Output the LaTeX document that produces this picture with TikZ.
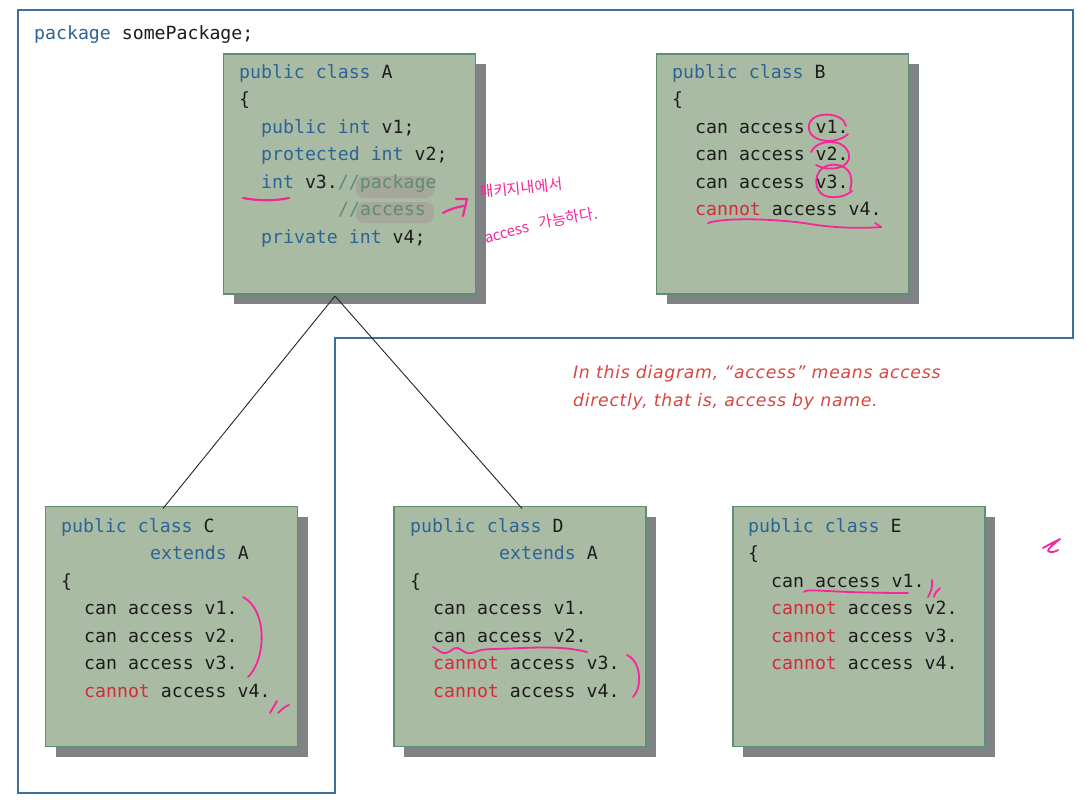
\documentclass[tikz,border=0pt]{standalone}
\usepackage{fontspec}
\setmainfont{Liberation Sans}
\newfontfamily\codefont{DejaVu Sans Mono}
\newfontfamily\notefont[LetterSpace=4]{DejaVu Sans}
\newfontfamily\korfont{Noto Sans CJK KR}
\usetikzlibrary{shadows}
\definecolor{kwblue}{HTML}{2C6496}
\definecolor{codeblack}{HTML}{1C1C1C}
\definecolor{cannotred}{HTML}{D42A3A}
\definecolor{cmtgreen}{HTML}{5E8C76}
\definecolor{boxfill}{HTML}{AABBA4}
\definecolor{boxline}{HTML}{5E8F73}
\definecolor{shadowgrey}{HTML}{808386}
\definecolor{pkgblue}{HTML}{3D6F9E}
\definecolor{notered}{HTML}{D9453F}
\definecolor{handpink}{HTML}{F7259A}
\definecolor{hilite}{HTML}{A39A94}
\newcommand\kwd[1]{\textcolor{kwblue}{#1}}
\newcommand\redt[1]{\textcolor{cannotred}{#1}}
\newcommand\cmtt[1]{\textcolor{cmtgreen}{#1}}
\tikzset{
  pkgline/.style={draw=pkgblue, line width=1.4pt},
  cls/.style={rectangle, fill=boxfill, draw=boxline, line width=1.1pt, inner sep=0pt, outer sep=0pt,
    minimum width=252pt, minimum height=240pt,
    drop shadow={shadow xshift=10pt, shadow yshift=-10pt, opacity=1, fill=shadowgrey}},
  code/.style={anchor=base west, inner sep=0pt, text=codeblack, font=\codefont\fontsize{18.2}{22}\selectfont},
  note/.style={anchor=base west, inner sep=0pt, text=notered, font=\notefont\itshape\fontsize{17.3}{22}\selectfont},
  conn/.style={draw=black!85, line width=0.9pt},
  hand/.style={draw=handpink, line width=2.2pt, line cap=round, line join=round},
  kor/.style={text=handpink, inner sep=0pt, font=\korfont\fontsize{15}{16}\selectfont},
  blob/.style={fill=hilite, fill opacity=0.55, rounded corners=8pt}
}
\begin{document}
\begin{tikzpicture}[x=1pt, y=-1pt]
\useasboundingbox (0,0) rectangle (1086,803);
\fill[white] (0,0) rectangle (1086,803);
% package outline
\draw[pkgline] (18,10) -- (1073,10) -- (1073,338) -- (335,338) -- (335,793) -- (18,793) -- cycle;
\node[code] (pk) at (34,39) {\kwd{package} somePackage;};

% class boxes
\node[cls] (A) at (349.5,174) {};
\node[cls] (B) at (782.5,174) {};
\node[cls] (C) at (171.5,626.5) {};
\node[cls] (D) at (520,626.5) {};
\node[cls] (E) at (859,626.5) {};

% inheritance lines
\coordinate (apex) at ([xshift=-14.5pt,yshift=-2pt]A.south);
\draw[conn] (apex) -- ([xshift=-8.5pt,yshift=-2pt]C.north);
\draw[conn] (apex) -- ([xshift=2pt,yshift=-2pt]D.north);

% highlight blobs
\fill[blob] (356,176) rectangle (434,198);
\fill[blob] (356,202) rectangle (434,223);

% class A
\node[code] (a1) at (239,78) {\kwd{public class} A};
\node[code] (a2) at (239,105.5) {\{};
\node[code] (a3) at (261,133) {\kwd{public int} v1;};
\node[code] (a4) at (261,160.5) {\kwd{protected int} v2;};
\node[code] (a5) at (261,188) {\kwd{int} v3.\cmtt{//package}};
\node[code] (a6) at (338,215.5) {\cmtt{//access}};
\node[code] (a7) at (261,243) {\kwd{private int} v4;};

% class B
\node[code] (b1) at (672,78) {\kwd{public class} B};
\node[code] (b2) at (672,105.5) {\{};
\node[code] (b3) at (695,133) {can access v1.};
\node[code] (b4) at (695,160.5) {can access v2.};
\node[code] (b5) at (695,188) {can access v3.};
\node[code] (b6) at (695,215.5) {\redt{cannot} access v4.};

% class C
\node[code] (c1) at (61,532) {\kwd{public class} C};
\node[code] (c2) at (150,559.5) {\kwd{extends} A};
\node[code] (c3) at (61,587) {\{};
\node[code] (c4) at (84,614.5) {can access v1.};
\node[code] (c5) at (84,642) {can access v2.};
\node[code] (c6) at (84,669.5) {can access v3.};
\node[code] (c7) at (84,697) {\redt{cannot} access v4.};

% class D
\node[code] (d1) at (410,532) {\kwd{public class} D};
\node[code] (d2) at (499,559.5) {\kwd{extends} A};
\node[code] (d3) at (410,587) {\{};
\node[code] (d4) at (433,614.5) {can access v1.};
\node[code] (d5) at (433,642) {can access v2.};
\node[code] (d6) at (433,669.5) {\redt{cannot} access v3.};
\node[code] (d7) at (433,697) {\redt{cannot} access v4.};

% class E
\node[code] (e1) at (748,532) {\kwd{public class} E};
\node[code] (e2) at (748,559.5) {\{};
\node[code] (e3) at (771,587) {can access v1.};
\node[code] (e4) at (771,614.5) {\redt{cannot} access v2.};
\node[code] (e5) at (771,642) {\redt{cannot} access v3.};
\node[code] (e6) at (771,669.5) {\redt{cannot} access v4.};

% note
\node[note] (n1) at (573,378) {In this diagram, “access” means access};
\node[note] (n2) at (573,406) {directly, that is, access by name.};

% handwritten annotations
\draw[hand] (243,198) .. controls (258,201) and (275,201) .. (289,198);
\draw[hand] (443,213) .. controls (450,209) and (457,207) .. (464,206);
\draw[hand] (456,199) -- (467,199) -- (463,216);
\node[kor, rotate=6] (k1) at (521,188) {패키지내에서};
\node[kor, rotate=15] (k2a) at (507,234) {access};
\node[kor, rotate=10] (k2b) at (568,218) {가능하다.};

% B circles and underline
\draw[hand, line width=1.8pt] (846,126) .. controls (844,112) and (812,110) .. (809,125) .. controls (806,142) and (836,146) .. (848,134);
\draw[hand, line width=1.8pt] (811,152) .. controls (818,138) and (846,138) .. (849,155) .. controls (851,169) and (828,172) .. (816,165);
\draw[hand, line width=1.8pt] (850,190) .. controls (855,173) and (846,163) .. (830,165) .. controls (812,168) and (811,195) .. (830,197) .. controls (840,198) and (847,195) .. (852,191);
\draw[hand, line width=1.8pt] (708,223) .. controls (725,217) and (780,219) .. (810,224) .. controls (840,229) and (870,228) .. (881,227);
\draw[hand, line width=1.8pt] (875,223) -- (881,227);

% C bracket and ticks
\draw[hand, line width=1.8pt] (243,597) .. controls (268,610) and (266,660) .. (248,677);
\draw[hand, line width=1.8pt] (270,713) -- (277,701);
\draw[hand, line width=1.8pt] (278,713) .. controls (282,709) and (286,706) .. (289,705);

% D wavy underline and bracket
\draw[hand, line width=1.8pt] (433,647) .. controls (440,651) and (442,654) .. (446,653) .. controls (451,652) and (453,647) .. (458,648) .. controls (463,650) and (466,655) .. (472,653) .. controls (480,650) and (484,649) .. (495,649) .. controls (530,648) and (560,645) .. (587,652);
\draw[hand, line width=1.8pt] (627,655) .. controls (642,662) and (642,688) .. (633,697);

% E underline, ticks, scribble
\draw[hand, line width=1.8pt] (804,592) .. controls (806,589) and (820,591) .. (850,592) .. controls (880,593) and (900,593) .. (908,593);
\draw[hand, line width=1.8pt] (932,580) .. controls (933,586) and (931,592) .. (928,597);
\draw[hand, line width=1.8pt] (940,588) .. controls (937,590) and (935,593) .. (934,597);
\draw[hand, line width=1.8pt] (1043,548) .. controls (1050,544) and (1056,541) .. (1060,539) .. controls (1055,543) and (1048,548) .. (1048,551) .. controls (1050,553) and (1055,552) .. (1058,550);
\end{tikzpicture}
\end{document}
